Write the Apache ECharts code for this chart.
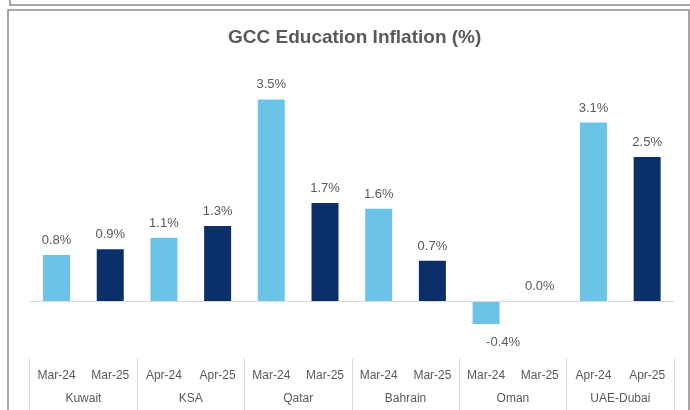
<!DOCTYPE html>
<html>
<head>
<meta charset="utf-8">
<script src="https://cdn.jsdelivr.net/npm/echarts@6/dist/echarts.min.js"></script>
<style>
  html, body { margin: 0; padding: 0; background: #ffffff; }
  #chart { width: 690px; height: 410px; }
</style>
</head>
<body>
<div id="chart"></div>
<script>
const periods = ['Mar-24', 'Mar-25', 'Apr-24', 'Apr-25', 'Mar-24', 'Mar-25', 'Mar-24', 'Mar-25', 'Mar-24', 'Mar-25', 'Apr-24', 'Apr-25'];
const countries = ['Kuwait', 'KSA', 'Qatar', 'Bahrain', 'Oman', 'UAE-Dubai'];
const inflation = [0.8, 0.9, 1.1, 1.3, 3.5, 1.7, 1.6, 0.7, -0.4, 0.0, 3.1, 2.5];

const LIGHT = '#6cc3e8';
const DARK = '#0a2f69';
const TEXT = '#595959';
const FONT = 'Liberation Sans';

const chart = echarts.init(document.getElementById('chart'), null, { renderer: 'canvas' });
chart.setOption({
  animation: false,
  backgroundColor: '#ffffff',
  textStyle: { fontFamily: FONT },
  title: {
    text: 'GCC Education Inflation (%)',
    left: 223,
    top: 23,
    textStyle: { fontFamily: FONT, fontSize: 19, fontWeight: 'bold', color: TEXT }
  },
  graphic: [
    { type: 'polyline', shape: { points: [[10, 0], [10, 5], [690, 5]] }, style: { stroke: '#8a8a8a', lineWidth: 1.5, fill: null } },
    { type: 'rect', shape: { x: 8, y: 10, width: 681, height: 420 }, style: { stroke: '#8a8a8a', lineWidth: 1.5, fill: null } }
  ],
  grid: { left: 29.7, right: 16, top: 70.6, bottom: 51.4, containLabel: false },
  xAxis: [
    {
      type: 'category',
      data: periods,
      position: 'bottom',
      axisLine: { show: false, onZero: false },
      axisTick: { show: false },
      axisLabel: { interval: 0, margin: 11, color: TEXT, fontSize: 12, fontFamily: FONT }
    },
    {
      type: 'category',
      data: countries,
      position: 'bottom',
      axisLine: { show: false, onZero: false },
      axisTick: { show: true, length: 52, interval: 0, lineStyle: { color: '#d9d9d9', width: 1 } },
      axisLabel: { interval: 0, margin: 34, color: TEXT, fontSize: 12, fontFamily: FONT }
    }
  ],
  yAxis: {
    type: 'value',
    min: -1,
    max: 4,
    show: false,
    splitLine: { show: false }
  },
  series: [{
    type: 'bar',
    xAxisIndex: 0,
    data: inflation,
    barWidth: 27,
    itemStyle: { color: p => (p.dataIndex % 2 === 0 ? LIGHT : DARK) },
    label: {
      show: true,
      position: 'top',
      distance: 8,
      color: TEXT,
      fontSize: 13,
      fontFamily: FONT,
      formatter: p => p.value.toFixed(1) + '%'
    },
    labelLayout: p => (inflation[p.dataIndex] < 0 ? { y: p.rect.y + p.rect.height + 12 } : {}),
    markLine: {
      silent: true,
      symbol: 'none',
      label: { show: false },
      lineStyle: { color: '#d9d9d9', type: 'solid', width: 1 },
      data: [{ yAxis: 0 }]
    }
  }]
});
</script>
</body>
</html>
